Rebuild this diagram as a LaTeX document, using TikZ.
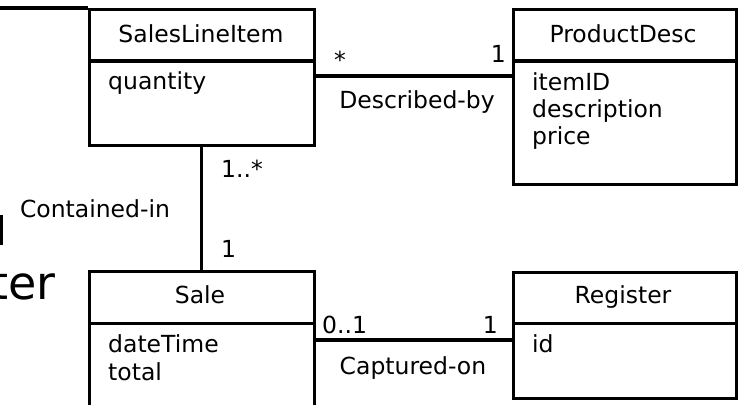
\documentclass[tikz,border=0pt]{standalone}
\usepackage{fontspec}
\setmainfont{DejaVu Sans}
\begin{document}
\begin{tikzpicture}[x=1pt,y=-1pt,
  classbox/.style={draw, line width=2.6pt, inner sep=0pt, anchor=north west},
  divider/.style={line width=3pt},
  assoc/.style={line width=3.2pt},
  txt/.style={font=\fontsize{23.5}{28}\selectfont, inner sep=0pt},
  title/.style={txt, anchor=base},
  attr/.style={txt, anchor=base west},
  big/.style={font=\fontsize{46}{55}\selectfont, inner sep=0pt}
]
\useasboundingbox (0,0) rectangle (738,404);
\clip (0,0) rectangle (738,404);

% class boxes
\node[classbox, minimum width=225pt, minimum height=136pt] (sli) at (88,8) {};
\node[classbox, minimum width=223pt, minimum height=175pt] (pd)  at (512,8) {};
\node[classbox, minimum width=225pt, minimum height=170pt] (sale) at (88,270) {};
\node[classbox, minimum width=223pt, minimum height=126pt] (reg) at (512,271) {};

% compartment dividers
\draw[divider] (sli.west |- 0,61) -- (sli.east |- 0,61);
\draw[divider] (pd.west |- 0,61) -- (pd.east |- 0,61);
\draw[divider] (sale.west |- 0,323) -- (sale.east |- 0,323);
\draw[divider] (reg.west |- 0,323) -- (reg.east |- 0,323);

% class names
\node[title] (sliname) at (201,42) {SalesLineItem};
\node[title] (pdname) at (623,42) {ProductDesc};
\node[title] (salename) at (200,303) {Sale};
\node[title] (regname) at (623,303) {Register};

% attributes
\node[attr] (qty) at (108,89) {quantity};
\node[attr] (itemid) at (532,90) {itemID};
\node[attr] (descr) at (532,117) {description};
\node[attr] (price) at (532,144) {price};
\node[attr] (dt) at (108,352) {dateTime};
\node[attr] (tot) at (108,380) {total};
\node[attr] (rid) at (532,352) {id};

% associations
\coordinate (offleft) at (-10,8);
\draw[assoc] (offleft) -- (sli.north west);
\draw[assoc] (sli.east |- 0,76) -- (pd.west |- 0,76);
\draw[assoc] (sli.south) -- (sale.north);
\draw[assoc] (sale.east |- 0,340) -- (reg.west |- 0,340);

% association names and multiplicities
\node[txt, anchor=base] (m1) at (340,68) {*};
\node[txt, anchor=base east] (m2) at (506,63) {1};
\node[txt, anchor=base] (describedby) at (417,108) {Described-by};
\node[txt, anchor=base west] (m3) at (221,177) {1..*};
\node[txt, anchor=base] (containedin) at (95,217) {Contained-in};
\node[txt, anchor=base west] (m4) at (221,257) {1};
\node[txt, anchor=base west] (m5) at (322,333) {0..1};
\node[txt, anchor=base east] (m6) at (498,333) {1};
\node[txt, anchor=base] (capturedon) at (413,374) {Captured-on};

% large heading text at the left edge
\node[big, anchor=base east] (ter) at (56,299) {ter};
\fill (0,215) rectangle (3,245);
\end{tikzpicture}
\end{document}
